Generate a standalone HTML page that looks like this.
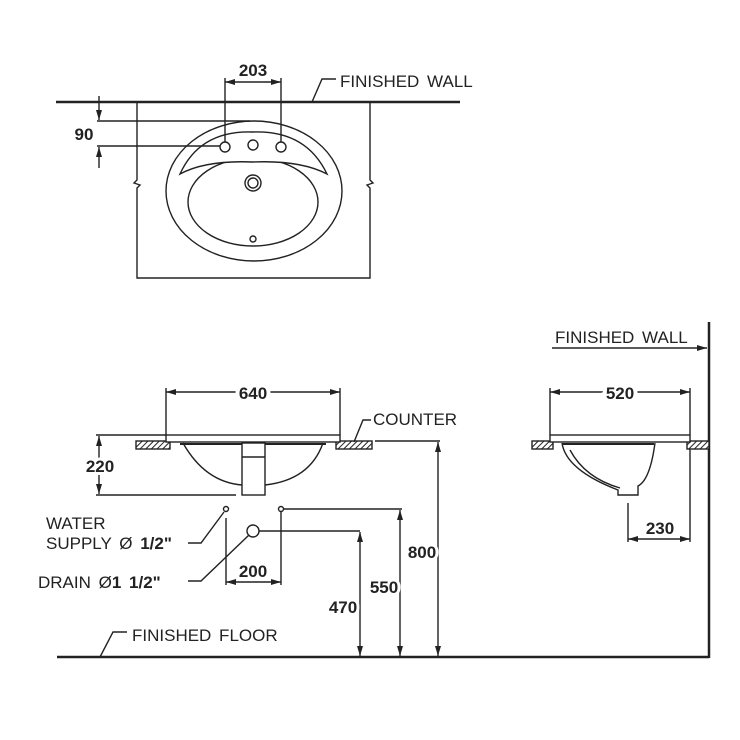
<!DOCTYPE html>
<html><head><meta charset="utf-8"><style>
html,body{margin:0;padding:0;background:#fff;}
svg{display:block;}
text{font-family:"Liberation Sans",sans-serif;fill:#222;}
.b{font-weight:bold;font-size:17px;}
.l{font-size:17px;word-spacing:3px;}
</style></head><body>
<svg width="740" height="740" viewBox="0 0 740 740" xmlns="http://www.w3.org/2000/svg">
<defs>
<marker id="a" viewBox="0 0 10 6" refX="10" refY="3" markerWidth="10" markerHeight="6" orient="auto-start-reverse" markerUnits="userSpaceOnUse"><path d="M0,0 L10,3 L0,6 z" fill="#222"/></marker>
<pattern id="h" width="4" height="4" patternUnits="userSpaceOnUse" patternTransform="rotate(45)"><rect width="4" height="4" fill="#fff"/><line x1="0" y1="0" x2="0" y2="4" stroke="#222" stroke-width="2"/></pattern>
</defs>
<g stroke="#222" fill="none" stroke-width="1.4">
<!-- TOP VIEW -->
<line x1="56" y1="102" x2="460" y2="102" stroke-width="2.5"/>
<path d="M137,102 V180 l-3,3 l6,2 l-3,3 V278 H370 V188 l-3,-3 l6,-2 l-3,-3 V102"/>
<ellipse cx="254" cy="191" rx="88" ry="70"/>
<ellipse cx="253" cy="202" rx="65" ry="44"/>
<path d="M180,174 Q200,130 253,132 Q306,130 327,174 Q300,160 253,162 Q206,160 180,174 z" fill="#fff"/>
<circle cx="225" cy="147" r="5"/><circle cx="253" cy="145" r="5"/><circle cx="281" cy="147" r="5"/>
<circle cx="253" cy="183" r="8"/><circle cx="253" cy="183" r="5"/>
<circle cx="253" cy="239" r="3"/>
<line x1="225" y1="78" x2="225" y2="142"/><line x1="281" y1="78" x2="281" y2="142"/>
<line x1="225" y1="82" x2="281" y2="82" marker-start="url(#a)" marker-end="url(#a)"/>
<line x1="97" y1="121" x2="250" y2="121"/><line x1="97" y1="146" x2="220" y2="146"/>
<line x1="99" y1="96" x2="99" y2="120" marker-end="url(#a)"/>
<line x1="99" y1="168" x2="99" y2="147" marker-end="url(#a)"/>
<path d="M312,102 L322,79 H336"/>
<!-- FRONT VIEW -->
<rect x="136" y="441" width="34" height="8" fill="url(#h)"/>
<rect x="336" y="441" width="36" height="8" fill="url(#h)"/>
<rect x="166" y="435" width="174" height="7" fill="#fff"/>
<line x1="180" y1="444" x2="326" y2="444" stroke-width="2"/>
<path d="M183,443 Q205,482 242,485 M265,485 Q310,480 323,443"/>
<rect x="242" y="443" width="23" height="52" fill="#fff"/>
<line x1="242" y1="457" x2="265" y2="457"/>
<line x1="166" y1="388" x2="166" y2="435"/><line x1="340" y1="388" x2="340" y2="435"/>
<line x1="166" y1="392" x2="340" y2="392" marker-start="url(#a)" marker-end="url(#a)"/>
<line x1="96" y1="435" x2="166" y2="435"/><line x1="96" y1="495" x2="236" y2="495"/>
<line x1="99" y1="436" x2="99" y2="494" marker-start="url(#a)" marker-end="url(#a)"/>
<circle cx="226" cy="509" r="2.5"/><circle cx="281" cy="509" r="2.5"/><circle cx="253" cy="531" r="6"/>
<line x1="284" y1="509" x2="402" y2="509"/>
<line x1="259" y1="531" x2="360" y2="531"/>
<line x1="226" y1="518" x2="226" y2="585"/><line x1="281" y1="512" x2="281" y2="585"/>
<line x1="226" y1="582" x2="281" y2="582" marker-start="url(#a)" marker-end="url(#a)"/>
<line x1="375" y1="441" x2="440" y2="441"/>
<line x1="360" y1="532" x2="360" y2="656" marker-start="url(#a)" marker-end="url(#a)"/>
<line x1="400" y1="510" x2="400" y2="656" marker-start="url(#a)" marker-end="url(#a)"/>
<line x1="438" y1="442" x2="438" y2="656" marker-start="url(#a)" marker-end="url(#a)"/>
<path d="M188,543 H201 L224,512"/>
<path d="M188,581 H201 L249,535"/>
<path d="M354,442 L363,420 H371"/>
<line x1="57" y1="657" x2="709" y2="657" stroke-width="2.5"/>
<path d="M100,657 L113,632 H127"/>
<!-- SIDE VIEW -->
<line x1="709" y1="322" x2="709" y2="658" stroke-width="2.5"/>
<line x1="552" y1="348" x2="707" y2="348" marker-end="url(#a)"/>
<rect x="532" y="441" width="21" height="8" fill="url(#h)"/>
<rect x="687" y="441" width="22" height="8" fill="url(#h)"/>
<rect x="550" y="435" width="140" height="7" fill="#fff"/>
<line x1="562" y1="444" x2="654" y2="444" stroke-width="2"/>
<path d="M562,443 Q566,470 618,490 V495 H638 V486 Q650,480 655,443"/>
<path d="M570,450 Q585,478 620,488"/>
<line x1="550" y1="388" x2="550" y2="435"/><line x1="690" y1="388" x2="690" y2="435"/>
<line x1="550" y1="392" x2="690" y2="392" marker-start="url(#a)" marker-end="url(#a)"/>
<line x1="628" y1="503" x2="628" y2="542"/><line x1="690" y1="449" x2="690" y2="542"/>
<line x1="628" y1="539" x2="690" y2="539" marker-start="url(#a)" marker-end="url(#a)"/>
</g>
<g stroke="none">
<text class="b" x="253" y="76" text-anchor="middle">203</text>
<text class="b" x="84" y="140" text-anchor="middle">90</text>
<text class="l" x="340" y="87">FINISHED  WALL</text>
<text class="b" x="253" y="399" text-anchor="middle" style="paint-order:stroke" stroke="#fff" stroke-width="8">640</text>
<text class="b" x="100" y="472" text-anchor="middle" style="paint-order:stroke" stroke="#fff" stroke-width="6">220</text>
<text class="l" x="373" y="425">COUNTER</text>
<text class="l" x="46" y="529">WATER</text>
<text class="l" x="46" y="549">SUPPLY Ø <tspan font-weight="bold">1/2"</tspan></text>
<text class="l" x="38" y="588">DRAIN Ø<tspan font-weight="bold">1 1/2"</tspan></text>
<text class="b" x="253" y="577" text-anchor="middle">200</text>
<text class="b" x="343" y="613" text-anchor="middle" style="paint-order:stroke" stroke="#fff" stroke-width="6">470</text>
<text class="b" x="384" y="593" text-anchor="middle" style="paint-order:stroke" stroke="#fff" stroke-width="6">550</text>
<text class="b" x="422" y="558" text-anchor="middle" style="paint-order:stroke" stroke="#fff" stroke-width="6">800</text>
<text class="l" x="132" y="641">FINISHED  FLOOR</text>
<text class="l" x="555" y="343">FINISHED  WALL</text>
<text class="b" x="620" y="399" text-anchor="middle" style="paint-order:stroke" stroke="#fff" stroke-width="8">520</text>
<text class="b" x="660" y="534" text-anchor="middle">230</text>
</g>
</svg>
</body></html>
